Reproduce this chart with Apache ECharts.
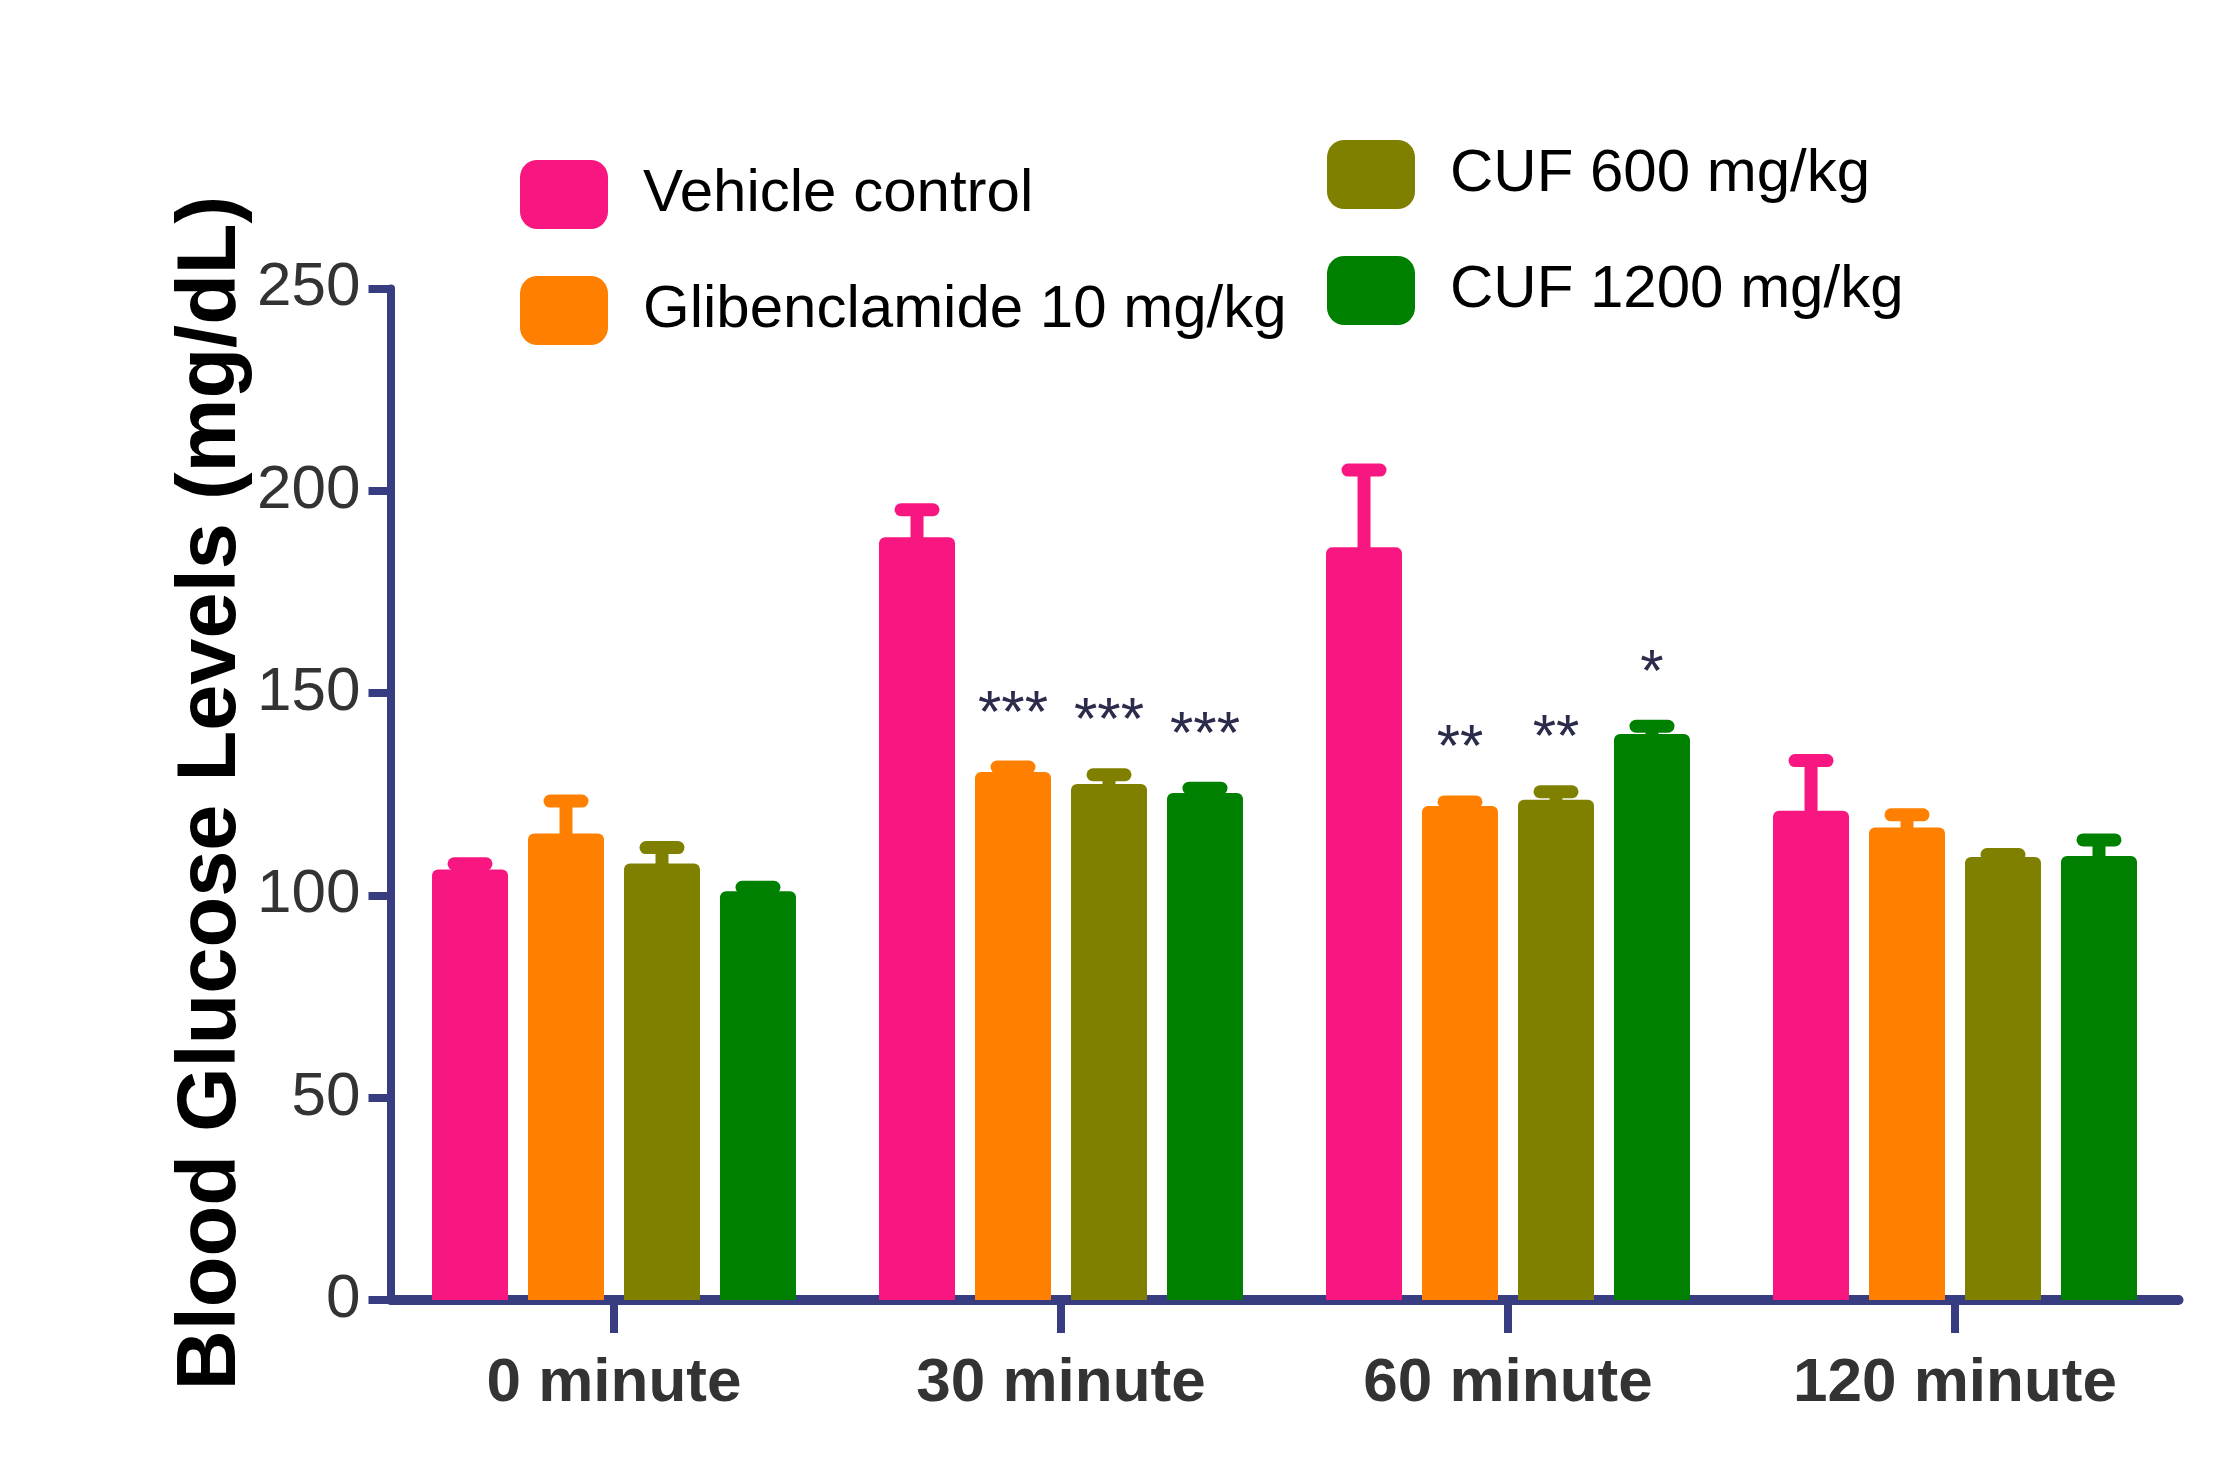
<!DOCTYPE html>
<html>
<head>
<meta charset="utf-8">
<script src="https://cdn.jsdelivr.net/npm/echarts@6/dist/echarts.min.js"></script>
<style>
html,body{margin:0;padding:0;background:#fff;}
#chart{width:2237px;height:1477px;}
</style>
</head>
<body>
<div id="chart"></div>
<script>
const categories = ['0 minute', '30 minute', '60 minute', '120 minute'];
const seriesNames = ['Vehicle control', 'Glibenclamide 10 mg/kg', 'CUF 600 mg/kg', 'CUF 1200 mg/kg'];
const vehicleMean = [106.4, 188.5, 186.0, 120.9];
const vehicleErr = [1.4, 6.8, 19.1, 12.4];
const glibMean = [115.3, 130.5, 122.1, 116.8];
const glibErr = [8.0, 1.2, 1.0, 3.1];
const cuf600Mean = [107.9, 127.5, 123.6, 109.5];
const cuf600Err = [3.9, 2.3, 2.0, 0.6];
const cuf1200Mean = [101.0, 125.3, 139.9, 109.7];
const cuf1200Err = [1.0, 1.2, 1.9, 4.0];
const vehicleSig = ['', '', '', ''];
const glibSig = ['', '***', '**', ''];
const cuf600Sig = ['', '***', '**', ''];
const cuf1200Sig = ['', '***', '*', ''];
const yTicks = [0, 50, 100, 150, 200, 250];

const colors = ['#F81780', '#FF8000', '#808000', '#008000'];
const means = [vehicleMean, glibMean, cuf600Mean, cuf1200Mean];
const errs = [vehicleErr, glibErr, cuf600Err, cuf1200Err];
const sigs = [vehicleSig, glibSig, cuf600Sig, cuf1200Sig];

const BAR_W = 76;
const BAR_GAP = 0.263;
const AXIS_COLOR = '#383C80';
const SANS = '"Liberation Sans", Arial, sans-serif';

const errData = [];
means.forEach((arr, s) => {
  arr.forEach((m, c) => {
    errData.push([c, s, m, m + errs[s][c], sigs[s][c]]);
  });
});

const chart = echarts.init(document.getElementById('chart'), null, {renderer: 'canvas'});

const barSeries = seriesNames.map((name, s) => ({
  name: name,
  type: 'bar',
  data: means[s],
  barWidth: BAR_W,
  barGap: (BAR_GAP * 100) + '%',
  itemStyle: {color: colors[s], borderRadius: [6, 6, 0, 0]},
  z: 2
}));

const errSeries = {
  type: 'custom',
  name: 'err',
  data: errData,
  encode: {x: 0, y: 3},
  z: 3,
  renderItem: function (params, api) {
    const c = api.value(0);
    const s = api.value(1);
    const m = api.value(2);
    const hi = api.value(3);
    const sig = errData[params.dataIndex][4];
    const step = BAR_W * (1 + BAR_GAP);
    const off = (s - 1.5) * step;
    const pBase = api.coord([c, m]);
    const pTop = api.coord([c, hi]);
    const x = pBase[0] + off;
    const col = colors[s];
    const children = [
      {type: 'line', shape: {x1: x, y1: pBase[1] + 2, x2: x, y2: pTop[1]},
       style: {stroke: col, lineWidth: 13, lineCap: 'butt'}},
      {type: 'line', shape: {x1: x - 16, y1: pTop[1], x2: x + 16, y2: pTop[1]},
       style: {stroke: col, lineWidth: 13, lineCap: 'round'}}
    ];
    if (sig) {
      children.push({type: 'text', style: {
        text: sig, x: x, y: pTop[1] - 52,
        font: '60px ' + SANS,
        fill: '#2B2B4B', align: 'center', verticalAlign: 'middle'
      }});
    }
    return {type: 'group', children: children};
  }
};

const legendBase = {
  orient: 'vertical', padding: 0,
  itemWidth: 88, itemHeight: 69, itemGap: 47,
  icon: 'roundRect', selectedMode: false,
  textStyle: {fontFamily: SANS, fontSize: 60, color: '#000', padding: [0, 0, 0, 30]}
};

const option = {
  animation: false,
  backgroundColor: '#ffffff',
  grid: {left: 390.5, top: 288.4, width: 1788, height: 1011.6, containLabel: false},
  legend: [
    Object.assign({}, legendBase, {data: seriesNames.slice(0, 2), left: 520, top: 160}),
    Object.assign({}, legendBase, {data: seriesNames.slice(2, 4), left: 1327, top: 140})
  ],
  xAxis: {
    type: 'category',
    data: categories,
    axisLine: {show: true, lineStyle: {color: AXIS_COLOR, width: 10, cap: 'round'}},
    axisTick: {show: true, interval: 0, alignWithLabel: true, length: 33, lineStyle: {color: AXIS_COLOR, width: 8}},
    axisLabel: {show: true, interval: 0, margin: 53, fontFamily: SANS, fontWeight: 'bold', fontSize: 62, color: '#333333'},
    splitLine: {show: false}
  },
  yAxis: {
    type: 'value',
    min: yTicks[0], max: yTicks[yTicks.length - 1], interval: yTicks[1] - yTicks[0],
    axisLine: {show: true, lineStyle: {color: AXIS_COLOR, width: 8}},
    axisTick: {show: true, inside: false, length: 22, lineStyle: {color: AXIS_COLOR, width: 8}},
    axisLabel: {show: true, margin: 30, fontFamily: SANS, fontSize: 62, color: '#333333'},
    splitLine: {show: false}
  },
  graphic: [
    {
      type: 'text',
      x: 212, y: 793, rotation: Math.PI / 2,
      style: {
        text: 'Blood Glucose Levels (mg/dL)',
        font: 'bold 83px ' + SANS,
        fill: '#000', align: 'center', verticalAlign: 'middle'
      }
    }
  ],
  series: barSeries.concat([errSeries])
};
chart.setOption(option);
</script>
</body>
</html>
